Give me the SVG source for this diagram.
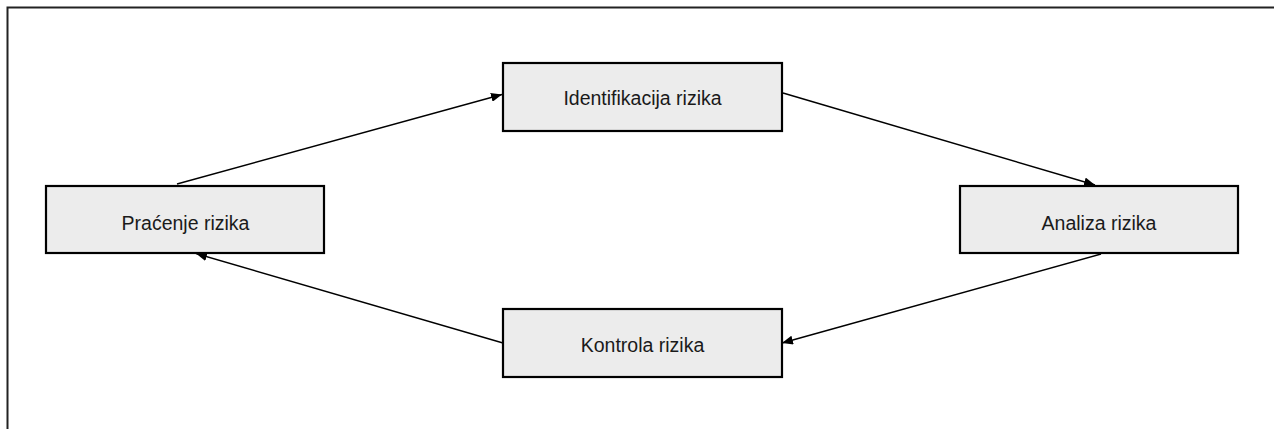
<svg xmlns="http://www.w3.org/2000/svg" width="1274" height="429" viewBox="0 0 1274 429">
  <style>
    .box { fill: #ececec; stroke: #000; stroke-width: 2.2; }
    .lbl { font-family: "Liberation Sans", Arial, sans-serif; font-size: 19.5px; fill: #1a1a1a; text-anchor: middle; }
    .conn { stroke: #000; stroke-width: 1.4; fill: none; marker-end: url(#arrow); }
    .frame { stroke: #222; stroke-width: 2; fill: none; }
  </style>
  <defs>
    <marker id="arrow" markerUnits="userSpaceOnUse" markerWidth="12" markerHeight="9" refX="11" refY="4.5" orient="auto">
      <path d="M0,0 L11,4.5 L0,9 Z" fill="#000"/>
    </marker>
  </defs>
  <rect width="1274" height="429" fill="#fff"/>
  <path class="frame" d="M7.5,429 L7.5,7.5 L1274,7.5"/>
  <g id="connectors">
    <line class="conn" x1="177" y1="184" x2="502" y2="94.5"/>
    <line class="conn" x1="783" y1="93" x2="1095" y2="185"/>
    <line class="conn" x1="1101" y1="254" x2="782" y2="343"/>
    <line class="conn" x1="503" y1="343" x2="196" y2="253.5"/>
  </g>
  <g id="identifikacija">
    <rect class="box" x="503" y="63" width="279" height="68"/>
    <text class="lbl" x="642.5" y="104.5">Identifikacija rizika</text>
  </g>
  <g id="pracenje">
    <rect class="box" x="46" y="186" width="278" height="67"/>
    <text class="lbl" x="185.5" y="229.5">Praćenje rizika</text>
  </g>
  <g id="analiza">
    <rect class="box" x="960" y="186" width="278" height="67"/>
    <text class="lbl" x="1099" y="229.5">Analiza rizika</text>
  </g>
  <g id="kontrola">
    <rect class="box" x="503" y="309" width="279" height="68"/>
    <text class="lbl" x="642.5" y="351.5">Kontrola rizika</text>
  </g>
</svg>
